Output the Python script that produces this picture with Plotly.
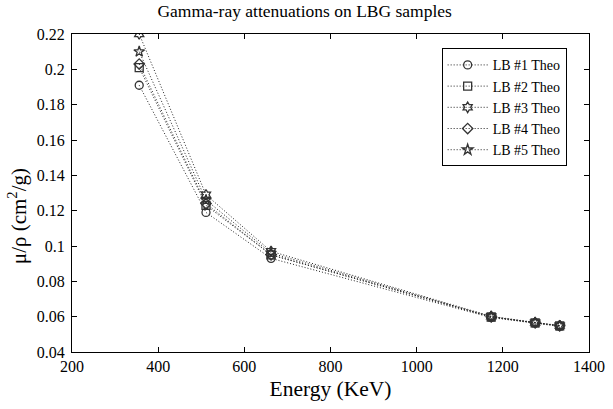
import plotly.graph_objects as go

energy = [356, 511, 662, 1173, 1275, 1332]
lb1 = [0.191, 0.119, 0.093, 0.0595, 0.0563, 0.0545]
lb2 = [0.201, 0.123, 0.095, 0.0598, 0.0565, 0.0548]
lb3 = [0.220, 0.129, 0.097, 0.0602, 0.0567, 0.0550]
lb4 = [0.203, 0.124, 0.095, 0.0599, 0.0565, 0.0548]
lb5 = [0.210, 0.126, 0.096, 0.0600, 0.0566, 0.0549]
names = ["LB #1 Theo", "LB #2 Theo", "LB #3 Theo", "LB #4 Theo", "LB #5 Theo"]
series = [lb1, lb2, lb3, lb4, lb5]
symbols = ["circle-open", "square-open", "hexagram-open", "diamond-open", "star-open"]

fig = go.Figure()
for nm, ys, sym in zip(names, series, symbols):
    fig.add_trace(go.Scatter(
        x=energy, y=ys, name=nm, mode="lines+markers",
        line=dict(color="#222222", width=1, dash="1px,2px"),
        marker=dict(symbol=sym, size=8, color="#333333", line=dict(width=1.3, color="#333333")),
    ))

font = "Liberation Serif"
fig.update_layout(
    width=613, height=409,
    margin=dict(l=72, r=8, t=34, b=57),
    paper_bgcolor="white", plot_bgcolor="white",
    font=dict(family=font, color="black", size=16),
    title=dict(text="Gamma-ray attenuations on LBG samples", x=0.497, xanchor="center",
               y=0.988, yanchor="top", font=dict(size=17.5, family=font)),
    showlegend=True,
    legend=dict(x=0.715, y=0.955, xanchor="left", yanchor="top",
                bordercolor="black", borderwidth=1, bgcolor="white",
                font=dict(size=14, family=font), tracegroupgap=0, itemwidth=40),
    annotations=[dict(text="μ/ρ (cm<sup>2</sup>/g)", xref="paper", yref="paper",
                      x=-0.104, y=0.428, xanchor="center", yanchor="middle",
                      textangle=-90, showarrow=False, font=dict(size=21, family=font))],
)
fig.update_xaxes(range=[200, 1400], dtick=200, showline=True, linecolor="black", linewidth=1,
                 mirror="ticks", ticks="inside", ticklen=5, tickcolor="black",
                 showgrid=False, zeroline=False, ticklabeloverflow="allow",
                 title=dict(text="Energy (KeV)", font=dict(size=21.5, family=font), standoff=6),
                 tickfont=dict(size=16, family=font))
fig.update_yaxes(range=[0.04, 0.22], dtick=0.02, showline=True, linecolor="black", linewidth=1,
                 mirror="ticks", ticks="inside", ticklen=5, tickcolor="black",
                 showgrid=False, zeroline=False, tickformat="~g", ticklabelstandoff=3,
                 tickfont=dict(size=16, family=font))

fig.write_html("out.html")
